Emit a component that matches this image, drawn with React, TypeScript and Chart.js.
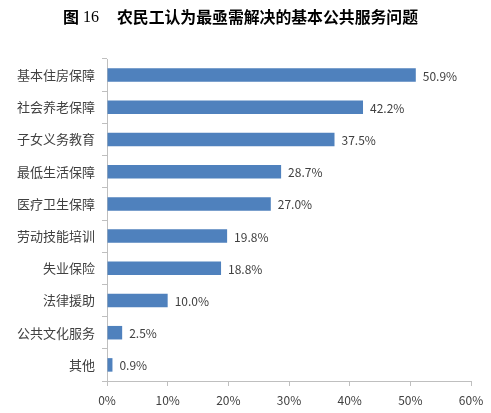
import React, { useEffect, useRef } from "react";
import { Chart, registerables } from "chart.js";

Chart.register(...registerables);

const categories = ["基本住房保障", "社会养老保障", "子女义务教育", "最低生活保障", "医疗卫生保障", "劳动技能培训", "失业保险", "法律援助", "公共文化服务", "其他"];
const values = [50.9, 42.2, 37.5, 28.7, 27.0, 19.8, 18.8, 10.0, 2.5, 0.9];
const xTicks = [0, 10, 20, 30, 40, 50, 60];
const titleNum = "16";
const titleText = "农民工认为最亟需解决的基本公共服务问题";

const FONT = '"Noto Sans CJK SC", "DejaVu Sans", sans-serif';

const labelPlugin = {
  id: "barLabels",
  afterDatasetsDraw(chart: any) {
    const ctx = chart.ctx;
    const meta = chart.getDatasetMeta(0);
    ctx.save();
    ctx.font = `12px ${FONT}`;
    ctx.fillStyle = "#404040";
    ctx.textAlign = "left";
    ctx.textBaseline = "middle";
    meta.data.forEach((bar: any, i: number) => {
      ctx.fillText(values[i].toFixed(1) + "%", bar.x + 7, bar.y + 1);
    });
    ctx.restore();
  },
};

const titlePlugin = {
  id: "customTitle",
  afterDraw(chart: any) {
    const ctx = chart.ctx;
    ctx.save();
    ctx.textBaseline = "middle";
    ctx.textAlign = "left";
    ctx.fillStyle = "#000";
    const y = 17;
    let x = 63;
    ctx.font = `bold 16px ${FONT}`;
    ctx.fillText("图", x, y);
    x += ctx.measureText("图").width + 4;
    ctx.font = `16px "Liberation Serif", serif`;
    ctx.fillText(titleNum, x, y + 1);
    x = 117;
    ctx.font = `bold 16px ${FONT}`;
    const w = ctx.measureText(titleText).width;
    const target = 301;
    ctx.save();
    ctx.translate(x, y);
    ctx.scale(target / w, 1);
    ctx.fillText(titleText, 0, 0);
    ctx.restore();
    ctx.restore();
  },
};

export default function App() {
  const ref = useRef<HTMLCanvasElement>(null);
  useEffect(() => {
    document.body.style.margin = "0";
    const chart = new Chart(ref.current!, {
      type: "bar",
      data: {
        labels: categories,
        datasets: [
          {
            data: values,
            backgroundColor: "#4F81BD",
            borderWidth: 0,
            barPercentage: 0.42,
            categoryPercentage: 1,
          },
        ],
      },
      options: {
        indexAxis: "y",
        responsive: false,
        animation: false,
        layout: { padding: { top: 59, right: 20, bottom: 0, left: 0 } },
        plugins: { legend: { display: false }, title: { display: false }, tooltip: { enabled: false } },
        scales: {
          x: {
            min: 0,
            max: 60,
            afterBuildTicks(scale: any) {
              scale.ticks = xTicks.map((v) => ({ value: v }));
            },
            afterFit(scale: any) {
              scale.height = 32;
            },
            ticks: {
              callback: (v: any) => v + "%",
              font: { family: FONT, size: 12 },
              color: "#404040",
              padding: 7,
            },
            grid: { drawOnChartArea: false, drawTicks: true, tickLength: 5, color: "#BFBFBF" },
            border: { display: true, color: "#BFBFBF" },
          },
          y: {
            afterFit(scale: any) {
              scale.width = 107;
            },
            ticks: {
              font: { family: FONT, size: 13 },
              color: "#404040",
              padding: 7,
            },
            grid: { offset: true, drawOnChartArea: false, drawTicks: true, tickLength: 5, color: "#BFBFBF" },
            border: { display: true, color: "#BFBFBF" },
          },
        },
      },
      plugins: [labelPlugin, titlePlugin],
    });
    return () => chart.destroy();
  }, []);
  return <canvas ref={ref} width={491} height={413} style={{ display: "block" }} />;
}
